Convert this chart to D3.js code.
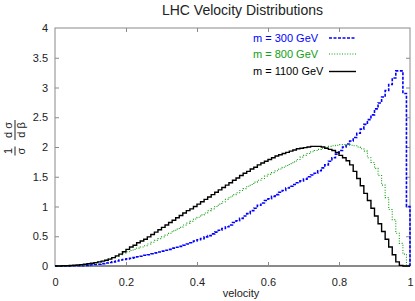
<!DOCTYPE html>
<html>
<head>
<meta charset="utf-8">
<script src="https://cdn.jsdelivr.net/npm/d3@7"></script>
<style>
  body { margin: 0; background: #fff; }
  svg { display: block; font-family: "Liberation Sans", Arial, sans-serif; }
</style>
</head>
<body>
<div id="chart"></div>
<script>
// histogram contents, one value per bin of width 0.01 in velocity
const binWidth = 0.01;

const m300 = [
  0, 0, 0, 0.001, 0.002, 0.003, 0.004, 0.006, 0.008, 0.01,
  0.02, 0.025, 0.03, 0.04, 0.05, 0.06, 0.07, 0.085, 0.10, 0.11,
  0.12, 0.13, 0.14, 0.155, 0.165, 0.18, 0.19, 0.205, 0.22, 0.235,
  0.25, 0.265, 0.28, 0.30, 0.315, 0.33, 0.35, 0.37, 0.39, 0.42,
  0.44, 0.46, 0.49, 0.51, 0.54, 0.57, 0.60, 0.63, 0.66, 0.69,
  0.73, 0.76, 0.80, 0.84, 0.88, 0.93, 0.97, 1.02, 1.06, 1.10,
  1.13, 1.17, 1.20, 1.24, 1.27, 1.31, 1.34, 1.37, 1.40, 1.43,
  1.46, 1.50, 1.53, 1.56, 1.60, 1.65, 1.70, 1.76, 1.82, 1.88,
  1.94, 2.00, 2.05, 2.10, 2.16, 2.23, 2.30, 2.38, 2.46, 2.54,
  2.64, 2.74, 2.84, 2.95, 3.05, 3.16, 3.28, 3.28, 2.90, 1.00
];

const m800 = [
  0, 0.001, 0.002, 0.003, 0.005, 0.008, 0.011, 0.015, 0.02, 0.026,
  0.04, 0.05, 0.065, 0.08, 0.10, 0.12, 0.14, 0.16, 0.19, 0.22,
  0.24, 0.26, 0.28, 0.30, 0.32, 0.34, 0.37, 0.40, 0.43, 0.46,
  0.49, 0.52, 0.55, 0.59, 0.62, 0.65, 0.69, 0.72, 0.75, 0.79,
  0.82, 0.86, 0.89, 0.93, 0.96, 1.00, 1.04, 1.08, 1.12, 1.16,
  1.20, 1.23, 1.27, 1.30, 1.34, 1.37, 1.41, 1.44, 1.47, 1.51,
  1.54, 1.57, 1.60, 1.63, 1.66, 1.69, 1.72, 1.75, 1.79, 1.83,
  1.86, 1.89, 1.92, 1.94, 1.96, 1.98, 1.99, 2.01, 2.02, 2.03,
  2.04, 2.04, 2.04, 2.03, 2.02, 2.00, 1.97, 1.93, 1.82, 1.74,
  1.64, 1.52, 1.36, 1.15, 0.95, 0.78, 0.55, 0.38, 0.20, 0.01
];

const m1100 = [
  0, 0.001, 0.003, 0.005, 0.008, 0.012, 0.017, 0.023, 0.030, 0.038,
  0.047, 0.057, 0.069, 0.082, 0.097, 0.115, 0.14, 0.17, 0.20, 0.24,
  0.28, 0.32, 0.35, 0.39, 0.42, 0.45, 0.49, 0.53, 0.57, 0.61,
  0.65, 0.69, 0.73, 0.77, 0.81, 0.85, 0.89, 0.93, 0.96, 1.00,
  1.04, 1.08, 1.12, 1.16, 1.20, 1.24, 1.28, 1.32, 1.36, 1.40,
  1.44, 1.48, 1.52, 1.56, 1.59, 1.63, 1.66, 1.70, 1.73, 1.76,
  1.79, 1.82, 1.85, 1.87, 1.89, 1.91, 1.93, 1.95, 1.97, 1.98,
  1.99, 2.00, 2.01, 2.01, 2.01, 2.00, 1.98, 1.96, 1.94, 1.91,
  1.86, 1.82, 1.77, 1.70, 1.59, 1.47, 1.35, 1.22, 1.10, 0.97,
  0.84, 0.71, 0.58, 0.45, 0.32, 0.19, 0.07, 0.01, 0, 0
];

const seriesNames = ["m = 300 GeV", "m = 800 GeV", "m = 1100 GeV"];
const xTicks = [0, 0.2, 0.4, 0.6, 0.8, 1];
const yTicks = [0, 0.5, 1, 1.5, 2, 2.5, 3, 3.5, 4];

const W = 415, H = 301;
const margin = { top: 28, right: 5, bottom: 35, left: 55 };

const svg = d3.select("#chart").append("svg")
  .attr("width", W)
  .attr("height", H);

const x = d3.scaleLinear().domain([0, 1]).range([margin.left, W - margin.right]);
const y = d3.scaleLinear().domain([0, 4]).range([H - margin.bottom, margin.top]);

const axisColor = "#8a8a8a";
const textColor = "#222";

// frame
svg.append("rect")
  .attr("x", x(0)).attr("y", y(4))
  .attr("width", x(1) - x(0)).attr("height", y(0) - y(4))
  .attr("fill", "none")
  .attr("stroke", axisColor)
  .attr("stroke-width", 1);

// inward ticks on all four sides
const tickLen = 4;
const xb = svg.append("g").attr("transform", `translate(0,${y(0)})`)
  .call(d3.axisBottom(x).tickValues(xTicks).tickSize(-tickLen).tickPadding(8 + tickLen)
    .tickFormat(d3.format("")));
const xt = svg.append("g").attr("transform", `translate(0,${y(4)})`)
  .call(d3.axisTop(x).tickValues(xTicks.slice(1, -1)).tickSize(-tickLen).tickFormat(""));
const yl = svg.append("g").attr("transform", `translate(${x(0)},0)`)
  .call(d3.axisLeft(y).tickValues(yTicks).tickSize(-tickLen).tickPadding(3 + tickLen)
    .tickFormat(d3.format("")));
const yr = svg.append("g").attr("transform", `translate(${x(1)},0)`)
  .call(d3.axisRight(y).tickValues(yTicks.slice(1, -1)).tickSize(-tickLen).tickFormat(""));

[xb, xt, yl, yr].forEach(g => {
  g.select(".domain").remove();
  g.selectAll(".tick line").attr("stroke", axisColor);
  g.selectAll(".tick text")
    .attr("fill", textColor)
    .style("font-family", "'Liberation Sans', Arial, sans-serif")
    .style("font-size", "11px");
});
xb.selectAll(".tick:first-of-type line, .tick:last-of-type line").remove();
yl.selectAll(".tick:first-of-type line, .tick:last-of-type line").remove();

// bottom line is drawn a little heavier
svg.append("line")
  .attr("x1", x(0)).attr("x2", x(1))
  .attr("y1", y(0)).attr("y2", y(0))
  .attr("stroke", axisColor)
  .attr("stroke-width", 2);

// histogram steps
const series = [
  { name: seriesNames[0], values: m300, color: "#0000ff", dash: "3,1.5", width: 1.6 },
  { name: seriesNames[1], values: m800, color: "#11a011", dash: "1,1.6", width: 1.1 },
  { name: seriesNames[2], values: m1100, color: "#000000", dash: null, width: 1.4 }
];

const step = d3.line()
  .x(d => x(d[0]))
  .y(d => y(d[1]))
  .curve(d3.curveStepAfter);

series.forEach(s => {
  const pts = s.values.map((v, i) => [i * binWidth, v]);
  pts.push([s.values.length * binWidth, 0]);
  svg.append("path")
    .attr("d", step(pts))
    .attr("fill", "none")
    .attr("stroke", s.color)
    .attr("stroke-width", s.width)
    .attr("stroke-dasharray", s.dash);
});

// legend
const legend = svg.append("g")
  .style("font-size", "11px");
const legendY = [38, 54, 71.5];
series.forEach((s, i) => {
  legend.append("text")
    .attr("x", 253)
    .attr("y", legendY[i])
    .attr("dy", "0.35em")
    .attr("fill", s.color)
    .text(s.name);
  legend.append("line")
    .attr("x1", 329).attr("x2", 356)
    .attr("y1", legendY[i]).attr("y2", legendY[i])
    .attr("stroke", s.color)
    .attr("stroke-width", s.width)
    .attr("stroke-dasharray", s.dash);
});

// title
svg.append("text")
  .attr("x", 242.5)
  .attr("y", 15)
  .attr("text-anchor", "middle")
  .attr("fill", textColor)
  .style("font-size", "14px")
  .text("LHC Velocity Distributions");

// x label
svg.append("text")
  .attr("x", 241)
  .attr("y", 297)
  .attr("text-anchor", "middle")
  .attr("fill", textColor)
  .style("font-size", "11px")
  .text("velocity");

// y label: (1/σ)(dσ/dβ), rotated
const yLab = svg.append("g")
  .attr("transform", "translate(15,141) rotate(-90)")
  .attr("fill", textColor)
  .style("font-size", "11px");
const frac = (cx, num, den, len) => {
  yLab.append("text").attr("x", cx).attr("y", -3).attr("text-anchor", "middle").text(num);
  yLab.append("text").attr("x", cx).attr("y", 10).attr("text-anchor", "middle").text(den);
  yLab.append("line")
    .attr("x1", cx - len / 2).attr("x2", cx + len / 2)
    .attr("y1", 0).attr("y2", 0)
    .attr("stroke", textColor).attr("stroke-width", 1);
};
frac(-10, "1", "σ", 9);
frac(11, "d σ", "d β", 20);
</script>
</body>
</html>
